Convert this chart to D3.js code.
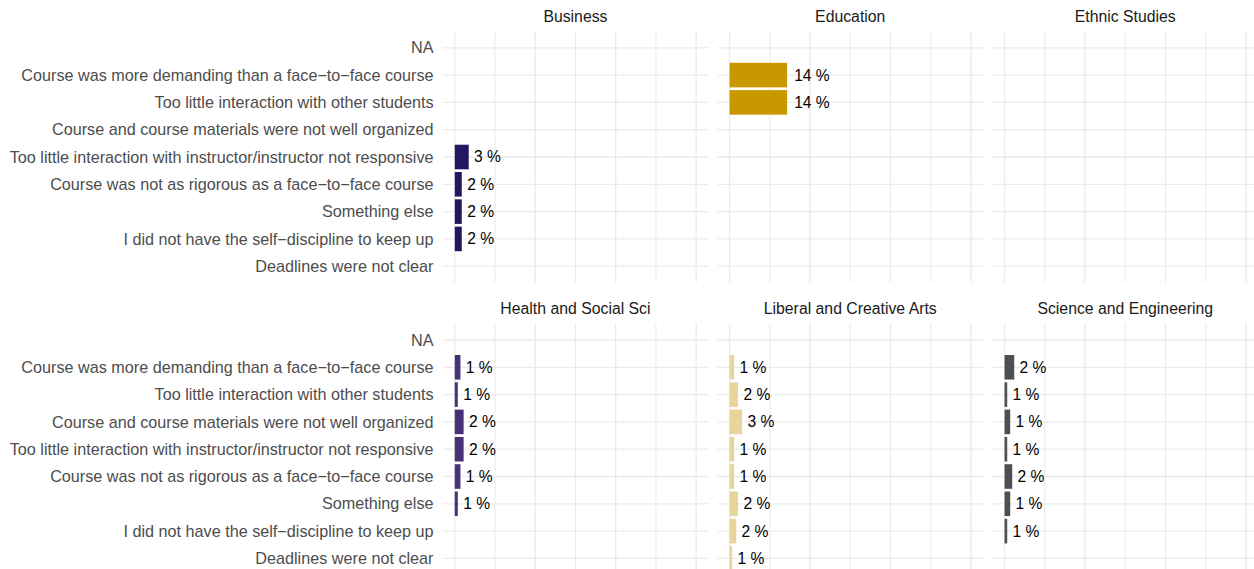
<!DOCTYPE html>
<html>
<head>
<meta charset="utf-8">
<script src="https://cdn.jsdelivr.net/npm/d3@7"></script>
<style>
  body { margin: 0; background: #fff; }
  svg { display: block; font-family: "Liberation Sans", Arial, Helvetica, sans-serif; }
</style>
</head>
<body>
<div id="graphic"></div>
<script>

// reasons, top to bottom as they appear on the axis
var reasons = [
	"NA",
	"Course was more demanding than a face\u2212to\u2212face course",
	"Too little interaction with other students",
	"Course and course materials were not well organized",
	"Too little interaction with instructor/instructor not responsive",
	"Course was not as rigorous as a face\u2212to\u2212face course",
	"Something else",
	"I did not have the self\u2212discipline to keep up",
	"Deadlines were not clear"
];

var colleges = ["Business", "Education", "Ethnic Studies", "Health and Social Sci", "Liberal and Creative Arts", "Science and Engineering"];
var collegeColors = ["#231762", "#c99700", "#6e6e6e", "#463077", "#e8d59b", "#4d4f53"];

// percent of students per reason (null = no bar)
var businessPct  = [null, null, null, null, 3.47, 1.74, 1.74, 1.74, null];
var educationPct = [null, 14.3, 14.3, null, null, null, null, null, null];
var ethnicPct    = [null, null, null, null, null, null, null, null, null];
var healthPct    = [null, 1.4, 0.75, 2.2, 2.2, 1.4, 0.75, null, null];
var liberalPct   = [null, 1.15, 2.1, 3.1, 1.15, 1.15, 2.1, 1.65, 0.66];
var sciencePct   = [null, 2.4, 0.66, 1.4, 0.66, 1.9, 1.4, 0.66, null];

var xTicks = [0, 10, 20, 30, 40, 50, 60];

var pctByCollege = [businessPct, educationPct, ethnicPct, healthPct, liberalPct, sciencePct];

var width = 1254, height = 569;
var panelW = 265.5, panelH = 251.2;
var panelX = [442.7, 717.5, 992.5];
var panelY = [31.4, 323.6];

var svg = d3.select("#graphic").append("svg")
	.attr("width", width)
	.attr("height", height);

var numFormat = d3.format(".0f");

colleges.forEach(function(name, i) {
	var col = i % 3, row = Math.floor(i / 3);
	var x0 = panelX[col], y0 = panelY[row];

	var x = d3.scaleLinear()
		.domain([-3, 63])
		.range([x0, x0 + panelW]);

	var y = d3.scalePoint()
		.domain(reasons)
		.range([y0, y0 + panelH])
		.padding(0.6);

	var barH = y.step() * 0.9;

	var panel = svg.append("g").attr("class", "panel");

	// grid
	panel.selectAll(".hgrid")
		.data(reasons)
		.enter().append("line")
		.attr("x1", x0).attr("x2", x0 + panelW)
		.attr("y1", function(d) { return y(d); })
		.attr("y2", function(d) { return y(d); })
		.attr("stroke", "#ebebeb")
		.attr("stroke-width", 1.3);

	panel.selectAll(".vgrid")
		.data(xTicks)
		.enter().append("line")
		.attr("x1", function(d) { return x(d); })
		.attr("x2", function(d) { return x(d); })
		.attr("y1", y0).attr("y2", y0 + panelH)
		.attr("stroke", "#ebebeb")
		.attr("stroke-width", function(d) { return d % 20 == 0 ? 1.3 : 1.1; });

	// strip title
	svg.append("text")
		.attr("x", x0 + panelW / 2)
		.attr("y", y0 - 15)
		.attr("dy", "0.35em")
		.attr("text-anchor", "middle")
		.attr("fill", "#1a1a1a")
		.style("font-size", "15.8px")
		.text(name);

	var rows = reasons.map(function(r, j) { return {reason: r, value: pctByCollege[i][j]}; })
		.filter(function(d) { return d.value != null; });

	panel.selectAll(".bar")
		.data(rows)
		.enter().append("rect")
		.attr("x", x(0))
		.attr("y", function(d) { return y(d.reason) - barH / 2; })
		.attr("width", function(d) { return x(d.value) - x(0); })
		.attr("height", barH)
		.attr("fill", collegeColors[i]);

	panel.selectAll(".lbl")
		.data(rows)
		.enter().append("text")
		.attr("y", function(d) { return y(d.reason); })
		.attr("dy", "0.35em")
		.attr("fill", "#000")
		.style("font-size", "15.6px")
		.text(function(d) { return numFormat(d.value) + " %"; })
		.attr("x", function(d) {
			var w = this.getComputedTextLength();
			return x(d.value) + 0.2 * w;
		});

	// y axis labels only on first column
	if (col == 0) {
		svg.selectAll(".ylab" + row)
			.data(reasons)
			.enter().append("text")
			.attr("x", x0 - 9.2)
			.attr("y", function(d) { return y(d); })
			.attr("dy", "0.35em")
			.attr("text-anchor", "end")
			.attr("fill", "#4d4d4d")
			.style("font-size", "16.2px")
			.text(function(d) { return d; });
	}
});

</script>
</body>
</html>
